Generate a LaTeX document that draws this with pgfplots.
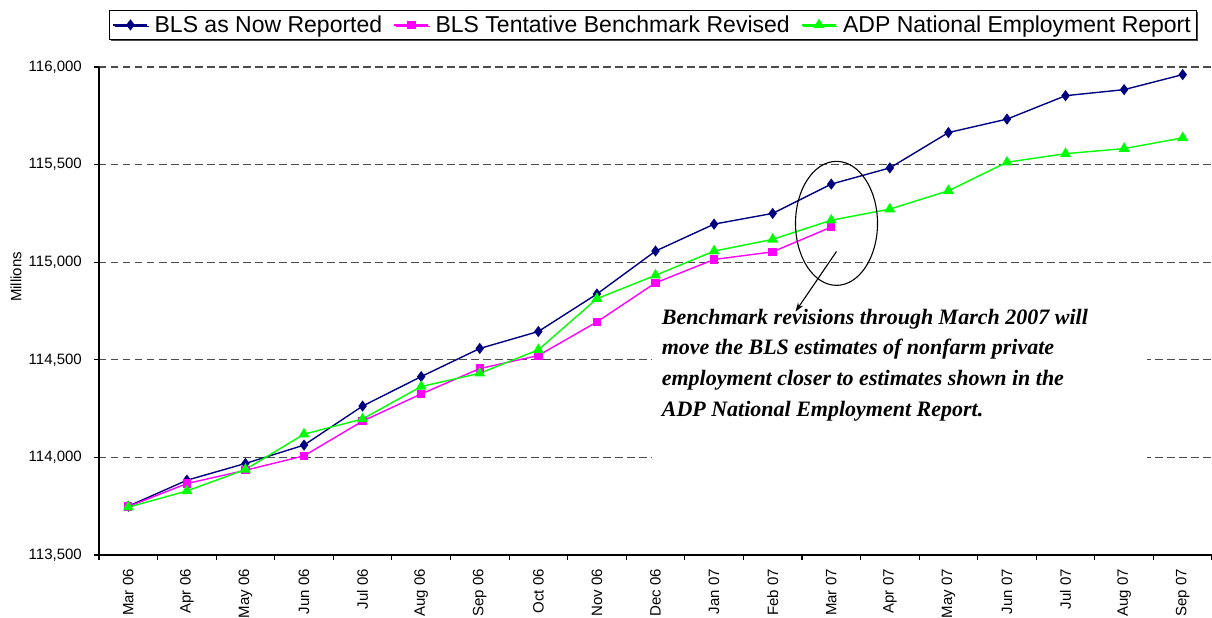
\documentclass[border=0pt]{standalone}
\usepackage{pgfplots}
\pgfplotsset{compat=1.18}
\usepackage{fontspec}
\setmainfont{Liberation Sans}
\newfontfamily\serifbi{Liberation Serif}
\usetikzlibrary{shadows,arrows.meta}
\definecolor{blsnavy}{HTML}{000080}
\definecolor{blspink}{HTML}{FF00FF}
\definecolor{adpgreen}{HTML}{00FF00}
\begin{document}
\begin{tikzpicture}
\useasboundingbox (-99pt,-63pt) rectangle (1113pt,555pt);
\begin{axis}[
  scale only axis, width=1113pt, height=488pt,
  clip=false,
  xmin=-0.5, xmax=18.5, ymin=113500, ymax=116000,
  axis x line=bottom, axis y line=left,
  axis line style={-, line width=1.2pt, black},
  xtick={-0.5,0.5,1.5,2.5,3.5,4.5,5.5,6.5,7.5,8.5,9.5,10.5,11.5,12.5,13.5,14.5,15.5,16.5,17.5,18.5},
  x tick label as interval,
  xticklabels={Mar 06,Apr 06,May 06,Jun 06,Jul 06,Aug 06,Sep 06,Oct 06,Nov 06,Dec 06,Jan 07,Feb 07,Mar 07,Apr 07,May 07,Jun 07,Jul 07,Aug 07,Sep 07},
  ytick={113500,114000,...,116000},
  scaled y ticks=false,
  yticklabel={\pgfmathprintnumber[fixed,precision=0,1000 sep={,},assume math mode=true]{\tick}},
  tick align=outside,
  major tick length=5pt,
  every tick/.style={black, line width=1.1pt},
  ymajorgrids,
  major grid style={dash pattern=on 7.5pt off 4.5pt, line width=1.2pt, black!70},
  tick label style={font=\fontsize{15}{18}\selectfont},
  xticklabel style={rotate=90, anchor=east, inner sep=0pt},
  xticklabel shift=9pt,
  yticklabel style={anchor=east, inner sep=0pt},
  yticklabel shift=12pt,
  legend columns=3,
  legend style={at={(axis description cs:0.4978,1)}, anchor=south, yshift=27pt,
    draw=black, line width=1pt, fill=white,
    drop shadow={shadow xshift=1.5pt, shadow yshift=-1.5pt, fill=black!70, opacity=1},
    font=\fontsize{23}{26}\selectfont,
    inner xsep=3pt, inner ysep=3pt,
    nodes={inner sep=2.5pt},
    /tikz/every odd column/.append style={column sep=4pt},
    /tikz/every even column/.append style={column sep=9pt}},
  legend cell align=left,
  legend image code/.code={\draw[mark repeat=2, mark phase=2, #1] plot coordinates {(0pt,0pt) (17pt,0pt) (34pt,0pt)};},
]
\addplot[blsnavy, line width=1.4pt, mark=diamond*, mark size=4.5pt, mark options={solid, fill=blsnavy}]
  coordinates {(0,113750) (1,113883) (2,113969) (3,114063) (4,114263) (5,114414) (6,114558) (7,114645) (8,114837) (9,115057) (10,115195) (11,115250) (12,115400) (13,115483) (14,115664) (15,115733) (16,115853) (17,115884) (18,115961)};
\addlegendentry{BLS as Now Reported}
\addplot[blspink, line width=1.4pt, mark=square*, mark size=3.5pt, mark options={solid, fill=blspink}]
  coordinates {(0,113748) (1,113866) (2,113934) (3,114008) (4,114186) (5,114325) (6,114455) (7,114522) (8,114694) (9,114894) (10,115014) (11,115053) (12,115180)};
\addlegendentry{BLS Tentative Benchmark Revised}
\addplot[adpgreen, line width=1.4pt, mark=triangle*, mark size=5pt, mark options={solid, fill=adpgreen}]
  coordinates {(0,113745) (1,113828) (2,113938) (3,114119) (4,114197) (5,114363) (6,114431) (7,114551) (8,114813) (9,114933) (10,115057) (11,115117) (12,115215) (13,115272) (14,115366) (15,115512) (16,115556) (17,115582) (18,115637)};
\addlegendentry{ADP National Employment Report}
% annotation
\fill[white] (axis cs:8.934,113960) rectangle (axis cs:17.39,114808);
\draw[line width=1.1pt, black] (axis cs:12.09,115199) ellipse [x radius=41pt, y radius=62pt];
\draw[-{Stealth[length=9pt,width=6pt]}, line width=1.1pt, black] (axis cs:12.09,115055) -- (axis cs:11.39,114747);
\begin{scope}[every node/.style={anchor=base west, inner sep=0pt, font=\serifbi\bfseries\itshape\fontsize{22}{26}\selectfont}]
\node at (axis cs:9.105,114680) {Benchmark revisions through March 2007 will};
\node at (axis cs:9.105,114526) {move the BLS estimates of nonfarm private};
\node at (axis cs:9.105,114367) {employment closer to estimates shown in the};
\node at (axis cs:9.105,114207) {ADP National Employment Report.};
\end{scope}
\node[rotate=90, font=\fontsize{15}{18}\selectfont] at (rel axis cs:-0.0746,0.570) {Millions};
\end{axis}
\end{tikzpicture}
\end{document}
